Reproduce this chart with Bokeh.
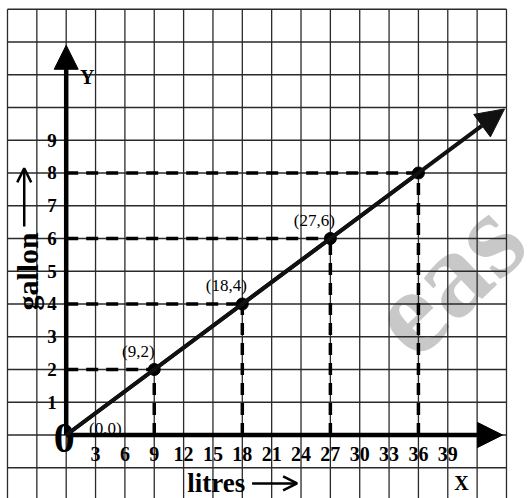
from bokeh.plotting import figure
from bokeh.models import Range1d, Arrow, NormalHead, OpenHead, ColumnDataSource
from bokeh.core.properties import value
from bokeh.embed import file_html
from bokeh.resources import INLINE
import math

# ---- data ----
litres = [0, 9, 18, 27, 36]
gallons = [0, 2, 4, 6, 8]
point_labels = ["", "(9,2)", "(18,4)", "(27,6)", ""]
x_ticks = [3, 6, 9, 12, 15, 18, 21, 24, 27, 30, 33, 36, 39]
y_ticks = [1, 2, 3, 4, 5, 6, 7, 8, 9]
grid_x = list(range(-6, 46, 3))
grid_y = list(range(-1, 14))
x_axis_end = 44.6
y_axis_end = 11.9
line_end = [44.8, 44.8 * 2 / 9]

SERIF = value("Liberation Serif")

p = figure(width=531, height=498, output_backend="svg", toolbar_location=None,
           x_range=Range1d(-6.715, 47.557), y_range=Range1d(-1.939, 13.267),
           x_axis_type=None, y_axis_type=None, min_border=0)
p.outline_line_color = None
p.grid.visible = False
p.background_fill_color = "white"

# watermark
p.text(x=[32.77], y=[3.11], text=["eas"], angle=math.radians(44),
       text_font=SERIF, text_font_style="bold", text_font_size="122px",
       text_color="#c8c8c8", text_align="left", text_baseline="middle")

# graph paper grid
p.segment(x0=grid_x, y0=[-3] * len(grid_x), x1=grid_x, y1=[13] * len(grid_x),
          line_color="#2a2a2a", line_width=1.3)
p.segment(x0=[-6] * len(grid_y), y0=grid_y, x1=[45] * len(grid_y), y1=grid_y,
          line_color="#2a2a2a", line_width=1.3)

# dashed guides
px = litres[1:]
py = gallons[1:]
p.segment(x0=[0] * len(px), y0=py, x1=px, y1=py, line_color="black",
          line_width=3.5, line_dash="12 8")
p.segment(x0=px, y0=[0] * len(px), x1=px, y1=py, line_color="black",
          line_width=3.5, line_dash="12 8")

# axes with arrows
p.add_layout(Arrow(end=NormalHead(size=25, fill_color="black", line_color="black"),
                   x_start=0, y_start=0, x_end=x_axis_end, y_end=0,
                   line_width=4.5, line_color="black"))
p.add_layout(Arrow(end=NormalHead(size=24, fill_color="black", line_color="black"),
                   x_start=0, y_start=0, x_end=0, y_end=y_axis_end,
                   line_width=4.5, line_color="black"))

# main line
p.add_layout(Arrow(end=NormalHead(size=28, fill_color="#111111", line_color="#111111"),
                   x_start=litres[0], y_start=gallons[0], x_end=line_end[0], y_end=line_end[1],
                   line_width=4, line_color="#111111"))
p.line(litres, gallons, line_color="#111111", line_width=4)
p.scatter(litres[1:], gallons[1:], size=12, color="black")

# point labels
src = ColumnDataSource(dict(x=litres, y=gallons, t=point_labels))
p.text(x="x", y="y", text="t", source=src, x_offset=-16, y_offset=-18,
       text_font=SERIF, text_font_size="17px", text_color="black",
       text_align="center", text_baseline="middle")
p.text(x=[4.0], y=[0.2], text=["(0,0)"], text_font=SERIF, text_font_size="17px",
       text_color="black", text_align="center", text_baseline="middle")

# origin
p.text(x=[-0.2], y=[-0.08], text=["0"], text_font=SERIF, text_font_style="bold",
       text_font_size="42px", text_color="black", text_align="center",
       text_baseline="middle")

# tick labels
p.text(x=x_ticks, y=[-0.57] * len(x_ticks), text=[str(v) for v in x_ticks],
       text_font=SERIF, text_font_style="bold", text_font_size="20px", text_color="black",
       text_align="center", text_baseline="middle")
p.text(x=[-1.45] * len(y_ticks), y=y_ticks, text=[str(v) for v in y_ticks],
       text_font=SERIF, text_font_style="bold", text_font_size="19px",
       text_color="black", text_align="center", text_baseline="middle")

# axis letters
p.text(x=[2.15], y=[10.92], text=["Y"], text_font=SERIF, text_font_style="bold",
       text_font_size="20px", text_color="black", text_align="center", text_baseline="middle")
p.text(x=[40.4], y=[-1.48], text=["X"], text_font=SERIF, text_font_style="bold",
       text_font_size="20px", text_color="black", text_align="center", text_baseline="middle")

# axis titles
p.text(x=[12.37], y=[-1.46], text=["litres"], text_font=SERIF, text_font_style="bold",
       text_font_size="27px", text_color="black", text_align="left", text_baseline="middle")
p.add_layout(Arrow(end=OpenHead(size=14, line_width=2.5, line_color="black"),
                   x_start=19.0, y_start=-1.48, x_end=23.6, y_end=-1.48,
                   line_width=2.5, line_color="black"))
p.text(x=[-3.99], y=[3.80], text=["gallon"], angle=math.pi / 2, text_font=SERIF,
       text_font_style="bold", text_font_size="30px", text_color="black",
       text_align="left", text_baseline="middle")
p.add_layout(Arrow(end=OpenHead(size=14, line_width=2.5, line_color="black"),
                   x_start=-4.29, y_start=6.37, x_end=-4.29, y_end=8.14,
                   line_width=2.5, line_color="black"))

open("out.html", "w").write(file_html(p, INLINE))
